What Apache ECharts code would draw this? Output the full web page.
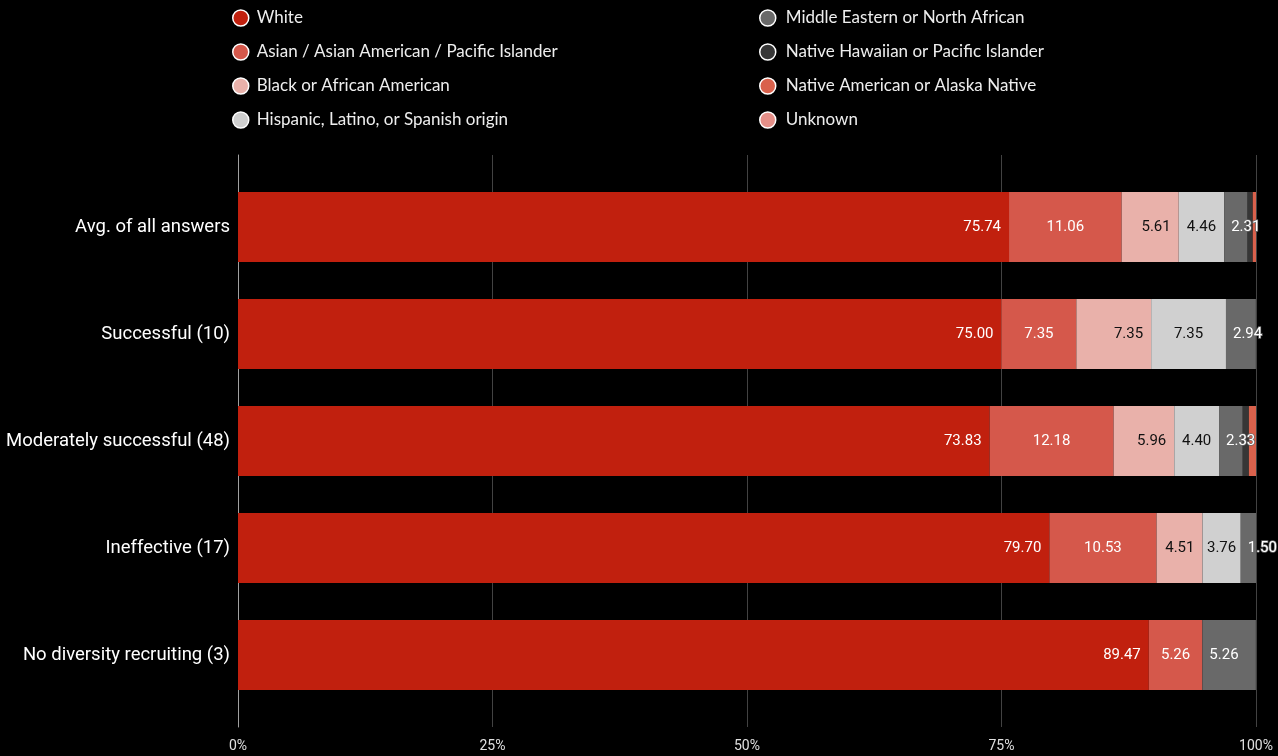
<!DOCTYPE html>
<html>
<head>
<meta charset="utf-8">
<script src="https://cdn.jsdelivr.net/npm/echarts@6/dist/echarts.min.js"></script>
<style>
  html, body { margin: 0; padding: 0; background: #000; }
  #chart { width: 1278px; height: 756px; }
</style>
</head>
<body>
<div id="chart"></div>
<script>
// Survey groups (top to bottom)
const categories = [
  'Avg. of all answers',
  'Successful (10)',
  'Moderately successful (48)',
  'Ineffective (17)',
  'No diversity recruiting (3)'
];

// Share of each group, in percent
const white      = [75.74, 75.00, 73.83, 79.70, 89.47];
const asian      = [11.06, 7.35, 12.18, 10.53, 5.26];
const black      = [5.61, 7.35, 5.96, 4.51, 0];
const hispanic   = [4.46, 7.35, 4.40, 3.76, 0];
const mena       = [2.31, 2.94, 2.33, 1.50, 5.26];
const hawaiian   = [0.50, 0, 0.60, 0, 0];
const nativeAm   = [0.32, 0, 0.70, 0, 0];
const unknown    = [0, 0, 0, 0, 0];

const xTicks = [0, 25, 50, 75, 100];

const seriesDefs = [
  { name: 'White', data: white, color: '#c1200e', label: { position: 'insideRight', distance: 8, color: '#fff' } },
  { name: 'Asian / Asian American / Pacific Islander', data: asian, color: '#d5584b', label: { position: 'inside', color: '#fff' } },
  { name: 'Black or African American', data: black, color: '#e9b1aa', label: { position: 'insideRight', distance: 8, color: '#111' } },
  { name: 'Hispanic, Latino, or Spanish origin', data: hispanic, color: '#d0d0d0', label: { position: 'inside', color: '#111' } },
  { name: 'Middle Eastern or North African', data: mena, color: '#696969', label: { position: 'insideLeft', distance: 7, color: '#fff', textBorderColor: '#6a6a6a', textBorderWidth: 1.5 } },
  { name: 'Native Hawaiian or Pacific Islander', data: hawaiian, color: '#363636', label: { position: 'inside', color: '#fff' } },
  { name: 'Native American or Alaska Native', data: nativeAm, color: '#d9614c', label: { position: 'inside', color: '#fff' } },
  { name: 'Unknown', data: unknown, color: '#e58f88', label: { position: 'inside', color: '#111' } }
];

const chart = echarts.init(document.getElementById('chart'), null, { renderer: 'canvas' });

const legendBase = {
  orient: 'vertical',
  top: 4,
  itemWidth: 16,
  itemHeight: 16,
  itemGap: 16,
  icon: 'circle',
  selectedMode: false,
  itemStyle: { borderColor: '#ffffff', borderWidth: 1.5 },
  textStyle: { color: '#eeeeee', fontFamily: 'Lato', fontSize: 17, lineHeight: 18, padding: [0, 0, 0, 3] }
};

const option = {
  backgroundColor: '#000000',
  animation: false,
  legend: [
    Object.assign({}, legendBase, { left: 227, data: seriesDefs.slice(0, 4).map(s => s.name) }),
    Object.assign({}, legendBase, { left: 754, textStyle: Object.assign({}, legendBase.textStyle, { padding: [0, 0, 0, 5] }), data: seriesDefs.slice(4).map(s => s.name) })
  ],
  grid: [
    // frame with the vertical gridlines and the percent labels
    { left: 238, right: 22, top: 155, bottom: 29, containLabel: false },
    // bars
    { left: 238, right: 22, top: 173.5, height: 535, containLabel: false }
  ],
  xAxis: [
    {
      gridIndex: 0, type: 'value', min: 0, max: 100, interval: 25,
      axisLine: { show: false }, axisTick: { show: false },
      splitLine: { show: true, lineStyle: { color: '#424242', width: 1 } },
      axisLabel: {
        color: '#e0e0e0', fontFamily: 'Roboto', fontSize: 14, margin: 12,
        formatter: v => (xTicks.indexOf(v) >= 0 ? v + '%' : '')
      }
    },
    {
      gridIndex: 1, type: 'value', min: 0, max: 100, interval: 25, show: false
    }
  ],
  yAxis: [
    {
      gridIndex: 0, type: 'category', data: [''],
      axisLine: { show: true, lineStyle: { color: '#a0a0a0', width: 1 } },
      axisTick: { show: false }, axisLabel: { show: false }, splitLine: { show: false }
    },
    {
      gridIndex: 1, type: 'category', data: categories, inverse: true,
      axisLine: { show: false }, axisTick: { show: false }, splitLine: { show: false },
      axisLabel: { color: '#ffffff', fontFamily: 'Roboto', fontSize: 18.5, margin: 8 }
    }
  ],
  series: seriesDefs.map(s => ({
    name: s.name,
    type: 'bar',
    stack: 'total',
    xAxisIndex: 1,
    yAxisIndex: 1,
    barWidth: 70,
    itemStyle: { color: s.color },
    data: s.data,
    label: Object.assign({
      show: true,
      fontFamily: 'Roboto',
      fontSize: 15,
      formatter: p => (p.value >= 1 ? p.value.toFixed(2) : '')
    }, s.label)
  }))
};

chart.setOption(option);
</script>
</body>
</html>
